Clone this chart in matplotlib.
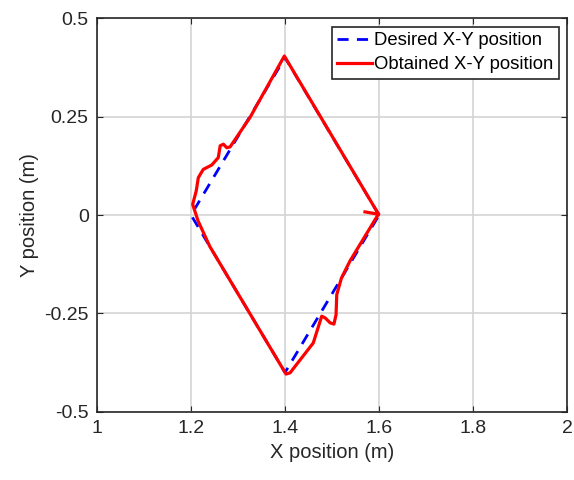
import matplotlib
matplotlib.use("Agg")
import matplotlib.pyplot as plt
import numpy as np

plt.rcParams['font.family'] = ['Liberation Sans', 'DejaVu Sans']

# desired diamond path
desired_x = [1.6, 1.4, 1.2, 1.4, 1.6]
desired_y = [0.0, 0.4, 0.0, -0.4, 0.0]

# obtained path
obtained_x = [1.570, 1.599, 1.3985, 1.3255, 1.283, 1.276, 1.269, 1.262, 1.258,
              1.244, 1.226, 1.2155, 1.211, 1.2035, 1.215, 1.24, 1.269, 1.402,
              1.4106, 1.460, 1.478, 1.485, 1.496, 1.504, 1.5085, 1.51, 1.52,
              1.538, 1.5985]
obtained_y = [0.008, 0.002, 0.404, 0.248, 0.173, 0.171, 0.180, 0.176, 0.146,
              0.127, 0.116, 0.095, 0.061, 0.027, -0.015, -0.08, -0.138, -0.404,
              -0.401, -0.325, -0.257, -0.261, -0.274, -0.277, -0.253, -0.202,
              -0.16, -0.117, 0.002]

axis_col = '#262626'

fig = plt.figure(figsize=(5.74, 4.8), dpi=100)
ax = fig.add_axes([0.169, 0.142, 0.819, 0.82])

ax.plot(desired_x, desired_y, '--', color='#0000ff', lw=2, dashes=(4, 3),
        label='Desired X-Y position')
ax.plot(obtained_x, obtained_y, '-', color='#ff0000', lw=2.3,
        label='Obtained X-Y position')

ax.set_xlim(1, 2)
ax.set_ylim(-0.5, 0.5)
ax.set_xticks(np.arange(1, 2.01, 0.2))
ax.set_xticklabels(['1', '1.2', '1.4', '1.6', '1.8', '2'])
ax.set_yticks([-0.5, -0.25, 0, 0.25, 0.5])
ax.set_yticklabels(['-0.5', '-0.25', '0', '0.25', '0.5'])
ax.grid(True, color='#d4d4d4', lw=1.2)
ax.set_axisbelow(True)
ax.tick_params(direction='in', labelsize=14, length=4, top=True, right=True,
               color=axis_col, labelcolor=axis_col, pad=6)
for s in ax.spines.values():
    s.set_linewidth(1.2)
    s.set_color(axis_col)

ax.set_xlabel('X position (m)', fontsize=14.5, labelpad=4, color=axis_col)
ax.set_ylabel('Y position (m)', fontsize=14.5, labelpad=4, color=axis_col)

leg = ax.legend(loc='upper right', fontsize=13.3, fancybox=False, framealpha=1,
                edgecolor=axis_col, handlelength=1.9, handletextpad=0.1,
                borderpad=0.3, labelspacing=0.4, borderaxespad=0.45)
leg.get_frame().set_linewidth(1.2)

fig.savefig('out.png', dpi=100)
